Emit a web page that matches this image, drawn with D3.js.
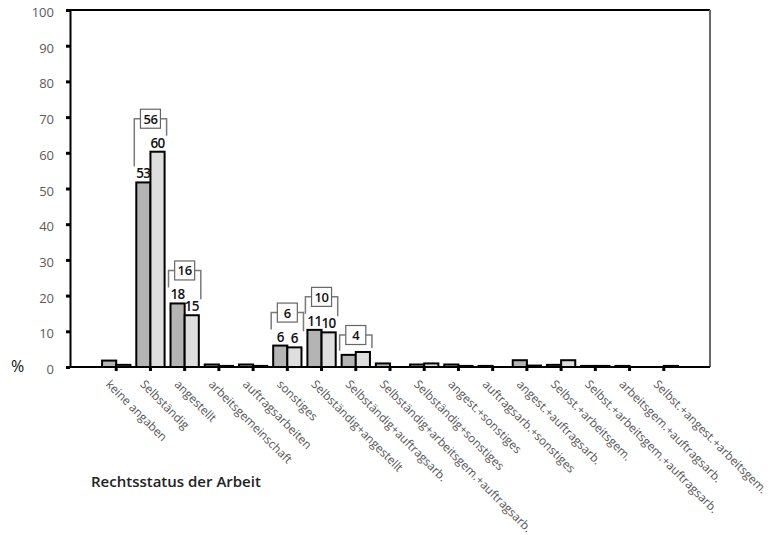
<!DOCTYPE html>
<html>
<head>
<meta charset="utf-8">
<script src="https://cdn.jsdelivr.net/npm/d3@7"></script>
<style>
  html, body { margin: 0; padding: 0; background: #fff; }
  svg { display: block; }
</style>
</head>
<body>
<svg id="chart" width="780" height="535"></svg>
<script>
const categories = [
  "keine angaben", "Selbständig", "angestellt", "arbeitsgemeinschaft",
  "auftragsarbeiten", "sonstiges", "Selbständig+angestellt",
  "Selbständig+auftragsarb.", "Selbständig+arbeitsgem.+auftragsarb.",
  "Selbständig+sonstiges", "angest.+sonstiges", "auftragsarb.+sonstiges",
  "angest.+auftragsarb.", "Selbst.+arbeitsgem.", "Selbst.+arbeitsgem.+auftragsarb.",
  "arbeitsgem.+auftragsarb.", "Selbst.+angest.+arbeitsgem."
];
const seriesDark  = [1.8, 51.7, 17.8, 0.7, 0.7, 6.0, 10.4, 3.4, 1.0, 0.7, 0.7, 0.3, 1.9, 0.6, 0.3, 0.3, 0];
const seriesLight = [0.6, 60.3, 14.5, 0.3, 0.3, 5.5, 9.7, 4.2, 0, 1.0, 0.3, 0, 0.4, 1.9, 0.3, 0, 0.3];
const labelsDark  = [null, "53", "18", null, null, "6", "11", null, null, null, null, null, null, null, null, null, null];
const labelsLight = [null, "60", "15", null, null, "6", "10", null, null, null, null, null, null, null, null, null, null];
const labelsCombined = [null, "56", "16", null, null, "6", "10", "4", null, null, null, null, null, null, null, null, null];
const yTicks = [0, 10, 20, 30, 40, 50, 60, 70, 80, 90, 100];
const series = ["dark", "light"];
const seriesFill = { dark: "#b4b4b4", light: "#dedede" };

(function () {
const svg = d3.select("#chart");
const pLeft = 70, pRight = 710, pTop = 10, pBottom = 367;
const fontMain = "'Open Sans', 'DejaVu Sans', sans-serif";

const x = d3.scaleBand().domain(categories).range([pLeft, pRight])
  .paddingInner(0.173).paddingOuter(0.937);
const xs = d3.scaleBand().domain(series).range([0, x.bandwidth()]);
const y = d3.scaleLinear().domain([0, 100]).range([pBottom, pTop]);

// frame: top black, right gray
svg.append("line").attr("x1", pLeft).attr("x2", pRight).attr("y1", pTop).attr("y2", pTop)
  .attr("stroke", "#000").attr("stroke-width", 2);
svg.append("line").attr("x1", pRight).attr("x2", pRight).attr("y1", pTop).attr("y2", pBottom)
  .attr("stroke", "#6a6a6a").attr("stroke-width", 2);

// bars
const rows = categories.map((c, i) => ({ c, i, dark: seriesDark[i], light: seriesLight[i] }));
const g = svg.append("g");
rows.forEach(r => {
  series.forEach(s => {
    const v = r[s];
    if (v <= 0) return;
    g.append("rect")
      .attr("x", x(r.c) + xs(s))
      .attr("y", y(v))
      .attr("width", xs.bandwidth())
      .attr("height", y(0) - y(v))
      .attr("fill", seriesFill[s])
      .attr("stroke", "#000")
      .attr("stroke-width", 2);
  });
});

// y axis
const yAxis = d3.axisLeft(y).tickValues(yTicks).tickSize(0).tickPadding(16);
const ya = svg.append("g").attr("transform", `translate(${pLeft},0)`).call(yAxis);
ya.select(".domain").attr("stroke", "#000").attr("stroke-width", 2);
ya.selectAll("text").attr("font-family", fontMain).attr("font-size", 13)
  .attr("fill", "#5a5a5a").attr("dy", "0.5em");
ya.selectAll(".tick").append("rect").attr("x", -4).attr("y", -1.5).attr("width", 4).attr("height", 3).attr("fill", "#000");

// x axis
const xAxis = d3.axisBottom(x).tickSize(0).tickFormat("");
const xa = svg.append("g").attr("transform", `translate(0,${pBottom})`).call(xAxis);
xa.select(".domain").attr("stroke", "#000").attr("stroke-width", 2).attr("d", `M${pLeft},0H${pRight}`);
xa.selectAll(".tick").append("rect").attr("x", -1.5).attr("y", 0).attr("width", 3).attr("height", 4).attr("fill", "#000");
xa.selectAll(".tick").append("text")
  .attr("transform", "translate(-11,18) rotate(45)")
  .attr("text-anchor", "start")
  .attr("font-family", fontMain).attr("font-size", 11.8).attr("fill", "#555")
  .text(d => d);

// value labels
rows.forEach(r => {
  const lbl = { dark: labelsDark[r.i], light: labelsLight[r.i] };
  series.forEach(s => {
    if (!lbl[s]) return;
    svg.append("text")
      .attr("x", x(r.c) + xs(s) + xs.bandwidth() / 2)
      .attr("y", y(r[s]) - 4)
      .attr("text-anchor", "middle")
      .attr("font-family", fontMain).attr("font-size", 13.5).attr("font-weight", 600)
      .attr("letter-spacing", -0.6)
      .attr("fill", "#111")
      .text(lbl[s]);
  });
});

// brackets with combined values
rows.forEach(r => {
  const comb = labelsCombined[r.i];
  if (!comb) return;
  const hasLbl = !!(labelsDark[r.i] || labelsLight[r.i]);
  const topD = y(r.dark), topL = y(r.light);
  const by = Math.min(topD, topL) - (hasLbl ? 33 : 17);
  const gap = hasLbl ? 16 : 4;
  const xl = x(r.c) - 2, xr = x(r.c) + x.bandwidth() + 2;
  const cx = x(r.c) + x.bandwidth() / 2;
  const bw = 20, bh = 19;
  const path = d3.path();
  path.moveTo(xl, topD - gap); path.lineTo(xl, by); path.lineTo(cx - bw / 2, by);
  path.moveTo(cx + bw / 2, by); path.lineTo(xr, by); path.lineTo(xr, topL - gap);
  svg.append("path").attr("d", path.toString()).attr("fill", "none")
    .attr("stroke", "#7a7a7a").attr("stroke-width", 1.5);
  svg.append("rect").attr("x", cx - bw / 2).attr("y", by - bh / 2)
    .attr("width", bw).attr("height", bh)
    .attr("fill", "#fff").attr("stroke", "#666").attr("stroke-width", 1.2);
  svg.append("text").attr("x", cx).attr("y", by + 5)
    .attr("text-anchor", "middle")
    .attr("font-family", fontMain).attr("font-size", 13).attr("font-weight", 600)
    .attr("letter-spacing", -0.4)
    .attr("fill", "#111").text(comb);
});

// % sign and axis title
svg.append("text").attr("x", 11).attr("y", 372)
  .attr("font-family", fontMain).attr("font-size", 16).attr("fill", "#111").text("%");
svg.append("text").attr("x", 91).attr("y", 487)
  .attr("font-family", fontMain).attr("font-size", 15).attr("font-weight", 600)
  .attr("fill", "#222").text("Rechtsstatus der Arbeit");
})();
</script>
</body>
</html>
